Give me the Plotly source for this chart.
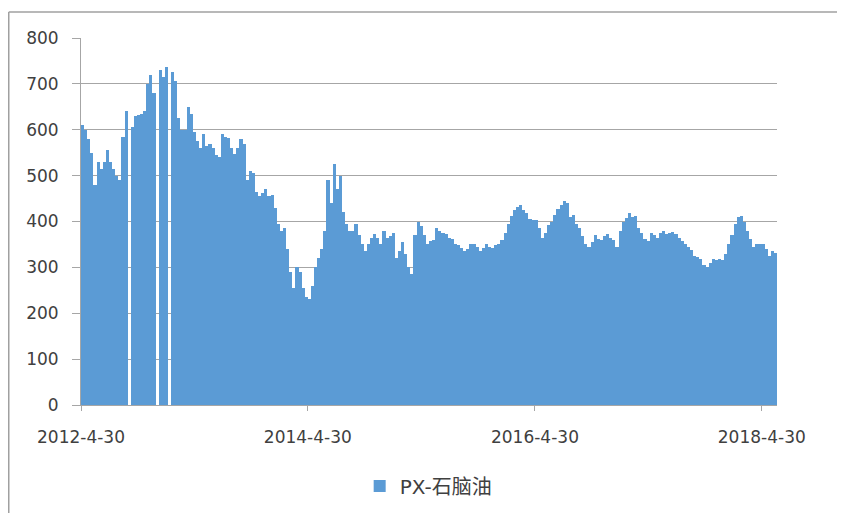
import pandas as pd
import plotly.graph_objects as go

# PX - naphtha spread in 10-day steps (None = no data)
start_date = "2012-05-05"
step_days = 10
spread_values = [
    610, 600, 580, 550, 480, 530, 515, 530, 555, 530,
    515, 500, 490, 585, 640, None, 605, 630, 632, 635,
    640, 700, 720, 680, None, 730, 714, 736, None, 725,
    707, 625, 600, 600, 650, 634, 595, 575, 561, 590,
    565, 570, 560, 545, 540,
    590, 585, 583, 560, 547, 560, 580, 570, 490, 510,
    505, 465, 455, 462, 470, 455, 458, 430, 395, 380,
    385, 340, 290, 255, 300, 290, 255, 235, 230, 260,
    300, 320, 340, 380, 490, 440, 525, 470, 500, 420,
    395, 380, 380, 395, 370,
    350, 336, 350, 365, 372, 365, 350, 380, 365, 368,
    375, 320, 336, 355, 330, 300, 285, 370, 400, 390,
    370, 350, 358, 360, 385, 380, 375, 372, 365, 361,
    350, 348, 343, 336, 340, 350, 352, 345, 335, 342,
    350, 345, 343, 348, 350,
    360, 375, 395, 412, 425, 432, 436, 425, 418, 405,
    403, 403, 385, 365, 375, 392, 400, 415, 428, 435,
    445, 440, 410, 415, 395, 385, 368, 352, 345, 355,
    370, 362, 360, 368, 372, 365, 360, 345, 380, 400,
    408, 418, 410, 412, 385,
    375, 362, 358, 375, 370, 365, 375, 380, 372, 375,
    378, 372, 365, 358, 352, 345, 338, 325, 322, 318,
    305, 300, 310, 318, 315, 318, 315, 330, 352, 370,
    395, 410, 412, 400, 380, 362, 345, 352, 350, 352,
    340, 325, 335, 332,
]
tick_dates = ["2012-04-30", "2014-04-30", "2016-04-30", "2018-04-30"]
tick_labels = ["2012-4-30", "2014-4-30", "2016-4-30", "2018-4-30"]
y_ticks = [0, 100, 200, 300, 400, 500, 600, 700, 800]
series_name = "PX-石脑油"

dates = pd.date_range(start_date, periods=len(spread_values), freq=f"{step_days}D")

FONT = "DejaVu Sans, Noto Sans CJK SC, sans-serif"
GRID = "#a6a6a6"


def create_spread_chart():
    """Bar chart of the PX - naphtha spread"""
    fig = go.Figure(
        go.Bar(
            x=dates,
            y=spread_values,
            name=series_name,
            marker_color="#5B9BD5",
            marker_line_width=0,
            width=step_days * 86400000,
            showlegend=True,
        )
    )
    # the page has an 8px body margin, so the figure is 8px smaller
    fig.update_layout(
        width=837,
        height=505,
        margin=dict(l=73, r=68, t=30, b=108),
        paper_bgcolor="white",
        plot_bgcolor="white",
        bargap=0,
        font=dict(family=FONT, size=17, color="#404040"),
        legend=dict(
            orientation="h",
            xref="container",
            yref="container",
            x=0.502,
            xanchor="center",
            y=0.0535,
            yanchor="middle",
            itemwidth=30,
            font=dict(family="DejaVu Sans, Noto Sans CJK SC", size=20, color="#404040"),
        ),
    )
    fig.update_xaxes(
        type="date",
        range=["2012-04-30", "2018-06-18"],
        tickvals=tick_dates,
        ticktext=tick_labels,
        showgrid=False,
        showline=True,
        linecolor=GRID,
        ticks="outside",
        ticklen=5,
        tickcolor=GRID,
        ticklabelstandoff=12,
        automargin=False,
    )
    fig.update_yaxes(
        range=[0, 800],
        tickvals=y_ticks,
        gridcolor=GRID,
        showline=True,
        linecolor=GRID,
        ticks="outside",
        ticklen=8,
        tickcolor=GRID,
        ticklabelstandoff=10,
        zeroline=False,
        automargin=False,
    )
    # chart frame, cut by the screenshot at right and bottom
    fig.add_shape(type="line", xref="paper", yref="paper",
                  x0=-0.1038, x1=-0.1038, y0=1.0708, y1=-0.3,
                  line=dict(color="#a0a0a0", width=1.5))
    fig.add_shape(type="line", xref="paper", yref="paper",
                  x0=-0.1038, x1=1.1, y0=1.0708, y1=1.0708,
                  line=dict(color="#a0a0a0", width=1.5))
    return fig


fig = create_spread_chart()
fig.write_html("out.html")
